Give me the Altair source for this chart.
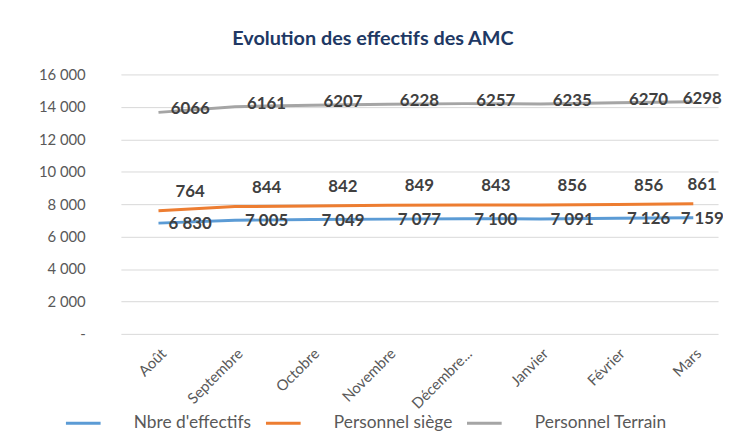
import altair as alt
import pandas as pd

months = ["Août", "Septembre", "Octobre", "Novembre", "Décembre...", "Janvier", "Février", "Mars"]
effectifs = [6830, 7005, 7049, 7077, 7100, 7091, 7126, 7159]
siege = [764, 844, 842, 849, 843, 856, 856, 861]
terrain = [6066, 6161, 6207, 6228, 6257, 6235, 6270, 6298]
series = ["Nbre d'effectifs", "Personnel siège", "Personnel Terrain"]
colors = ["#5B9BD5", "#ED7D31", "#A5A5A5"]
y_ticks = [0, 2000, 4000, 6000, 8000, 10000, 12000, 14000, 16000]

FONT = "Lato"

rows = []
for i, m in enumerate(months):
    vals = [effectifs[i], siege[i], terrain[i]]
    cum = 0
    for s_i, (s, v) in enumerate(zip(series, vals)):
        cum += v
        lab = f"{v:,}".replace(",", " ") if s_i == 0 else str(v)
        rows.append(dict(month=m, idx=i, series=s, sidx=s_i, value=v, cum=cum, label=lab))
df = pd.DataFrame(rows)

x_enc = alt.X(
    "month:N", sort=months,
    scale=alt.Scale(type="point", padding=0.408, align=0.603),
    axis=alt.Axis(title=None, labelAngle=-45, labelFontSize=15, labelColor="#595959",
                  labelFont=FONT, domain=False, ticks=False, grid=False, labelPadding=12),
)
y_enc = alt.Y(
    "cum:Q", scale=alt.Scale(domain=[0, 16000], nice=False),
    axis=alt.Axis(title=None, values=y_ticks, domain=False, ticks=False, labelOverlap=False,
                  gridColor="#D9D9D9", gridWidth=1, labelFontSize=15, labelColor="#595959",
                  labelFont=FONT, labelPadding=36,
                  labelExpr="datum.value == 0 ? '-' : replace(format(datum.value, ','), ',', ' ')"),
)

base = alt.Chart(df)

lines = base.mark_line(strokeWidth=3).encode(
    x=x_enc, y=y_enc,
    color=alt.Color("series:N", sort=series,
                    scale=alt.Scale(domain=series, range=colors),
                    legend=alt.Legend(title=None, orient="none", direction="horizontal",
                                      legendX=-57, legendY=333, symbolType="stroke",
                                      symbolStrokeWidth=3, symbolSize=1225,
                                      labelFontSize=17.5, labelColor="#595959", labelFont=FONT,
                                      labelOffset=32, columnPadding=8, labelLimit=300)),
    detail="series:N",
)

dys = [1, -19, -3]
layers = [lines]
for s_i in range(3):
    for last in (False, True):
        cond = f"datum.sidx == {s_i} && datum.idx {'==' if last else '<'} {len(months) - 1}"
        t = base.transform_filter(cond).mark_text(
            fontSize=17, fontWeight="bold", color="#404040", font=FONT,
            dx=9 if last else 32, dy=dys[s_i],
        ).encode(x=x_enc, y=y_enc, text="label:N")
        layers.append(t)

chart = alt.layer(*layers).properties(
    width=603, height=262,
    background="white",
    title=alt.Title("Evolution des effectifs des AMC", fontSize=20, fontWeight="bold",
                    color="#203864", font=FONT, anchor="middle", frame="group",
                    dx=-47, offset=19),
    autosize=alt.AutoSizeParams(type="none"),
    padding={"left": 114, "top": 65, "right": 5, "bottom": 97},
).configure_view(strokeWidth=0, stroke="transparent")

chart.save("out.html", embed_options={"renderer": "svg", "actions": False})
